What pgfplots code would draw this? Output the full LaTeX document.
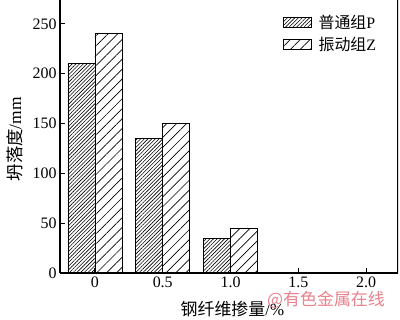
\documentclass[border=0pt]{standalone}
\usepackage{fontspec}
\setmainfont{Liberation Serif}
\newfontfamily\cjk{Noto Sans CJK SC}
\usepackage{pgfplots}
\pgfplotsset{compat=1.18}
\usetikzlibrary{patterns.meta}
\begin{document}
\begin{tikzpicture}
\useasboundingbox (-60bp,-47bp) rectangle (340bp,273bp);
\begin{axis}[
  at={(0,0)}, anchor=south west,
  scale only axis, width=338bp, height=273bp,
  ybar=0pt, bar width=27bp,
  xmin=-0.515, xmax=4.47, ymin=0, ymax=274,
  xtick={0,1,2,3,4}, xticklabels={0,0.5,1.0,1.5,2.0},
  ytick={0,50,100,150,200,250},
  axis lines*=left,
  axis line style={line width=1.1bp},
  tick align=inside, major tick length=5bp,
  tick style={line width=0.9bp, black},
  /pgf/number format/assume math mode=true,
  tick label style={font=\fontsize{16}{16}\selectfont},
  xlabel={{\cjk 钢纤维掺量}/\%},
  xlabel style={at={(axis description cs:0.51,-0.132)}, anchor=center, font=\fontsize{17}{17}\selectfont},
  ylabel={{\cjk 坍落度}/mm},
  ylabel style={at={(axis description cs:-0.135,0.49)}, anchor=center, font=\fontsize{17.5}{17.5}\selectfont},
  legend style={draw=none, fill=none, at={(axis description cs:0.66,0.95)}, anchor=north west,
    font=\fontsize{16}{16}\selectfont, row sep=5bp, inner sep=0pt,
    nodes={inner xsep=6.5bp, inner ysep=1bp}},
  legend cell align=left,
  legend image code/.code={\draw[#1, line width=0.8bp] (0bp,-5bp) rectangle (28bp,5bp);},
]
\addplot[draw=black, line width=0.8bp, pattern={Lines[angle=45,distance=2.6bp,line width=0.6bp]}]
  coordinates {(0,210) (1,135) (2,35)};
\addlegendentry{{\cjk 普通组}P}
\addplot[draw=black, line width=0.8bp, pattern={Lines[angle=45,distance=7bp,line width=0.7bp]}]
  coordinates {(0,240) (1,150) (2,45)};
\addlegendentry{{\cjk 振动组}Z}
\draw[line width=1.1bp] (rel axis cs:1,0) -- (rel axis cs:1,1);
\end{axis}
\node[text={rgb,255:red,232;green,130;blue,140}, font=\cjk\fontsize{17}{17}\selectfont] at (266bp,-27bp) {@有色金属在线};
\end{tikzpicture}
\end{document}
